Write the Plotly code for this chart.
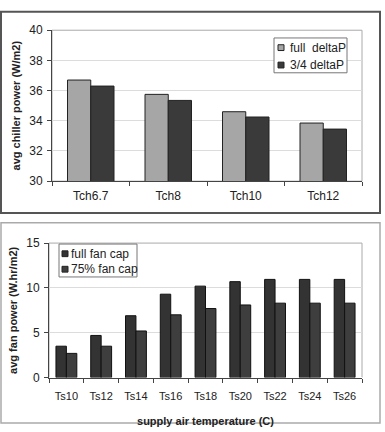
import plotly.graph_objects as go

# ---- data ----
tch_categories = ["Tch6.7", "Tch8", "Tch10", "Tch12"]
full_deltaP = [36.7, 35.75, 34.6, 33.85]
three_quarter_deltaP = [36.3, 35.35, 34.25, 33.45]

ts_categories = ["Ts10", "Ts12", "Ts14", "Ts16", "Ts18", "Ts20", "Ts22", "Ts24", "Ts26"]
full_fan_cap = [3.5, 4.7, 6.9, 9.3, 10.2, 10.7, 10.95, 10.95, 10.95]
fan_cap_75 = [2.7, 3.5, 5.2, 7.0, 7.7, 8.1, 8.3, 8.3, 8.3]

top_ticks = [30, 32, 34, 36, 38, 40]
bottom_ticks = [0, 5, 10, 15]

top_series_names = ["full  deltaP", "3/4 deltaP"]
bottom_series_names = ["full fan cap", "75% fan cap"]

W, H = 385, 432
FONT = "Liberation Sans, Arial, sans-serif"

def px(x):
    return x / W

def py(y):
    return 1 - y / H

top_colors = ["#a6a6a6", "#3a3a3a"]
bottom_colors = ["#333333", "#3e3e3e"]

fig = go.Figure()

fig.add_trace(go.Bar(x=tch_categories, y=full_deltaP, name=top_series_names[0],
                     marker=dict(color=top_colors[0], line=dict(color="#222", width=1)),
                     xaxis="x", yaxis="y", showlegend=False))
fig.add_trace(go.Bar(x=tch_categories, y=three_quarter_deltaP, name=top_series_names[1],
                     marker=dict(color=top_colors[1], line=dict(color="#222", width=1)),
                     xaxis="x", yaxis="y", showlegend=False))
fig.add_trace(go.Bar(x=ts_categories, y=full_fan_cap, name=bottom_series_names[0],
                     marker=dict(color=bottom_colors[0], line=dict(color="#111", width=1)),
                     xaxis="x2", yaxis="y2", showlegend=False))
fig.add_trace(go.Bar(x=ts_categories, y=fan_cap_75, name=bottom_series_names[1],
                     marker=dict(color=bottom_colors[1], line=dict(color="#111", width=1)),
                     xaxis="x2", yaxis="y2", showlegend=False))

titlefont = dict(family=FONT, size=11, color="#222", weight="bold")

def axis_common(size):
    return dict(showline=True, linecolor="#444", linewidth=1, ticks="outside",
                ticklen=4, tickcolor="#444",
                tickfont=dict(family=FONT, size=size, color="#222"))

fig.update_layout(
    width=W, height=H,
    margin=dict(l=0, r=0, t=0, b=0),
    paper_bgcolor="white", plot_bgcolor="white",
    barmode="group", bargap=0.4, bargroupgap=0,
    font=dict(family=FONT, color="#222"),
    showlegend=False,
    xaxis=dict(domain=[px(52), px(362)], anchor="y", tickson="boundaries",
               showgrid=False, ticklabelstandoff=3, **axis_common(12)),
    yaxis=dict(domain=[py(180), py(24)], anchor="x", range=[30, 40],
               tickvals=top_ticks, showgrid=True, gridcolor="#dcdcdc",
               ticklabelstandoff=2,
               title=dict(text="avg chiller power (W/m2)", font=titlefont, standoff=6),
               **axis_common(12)),
    xaxis2=dict(domain=[px(49), px(362)], anchor="y2", tickson="boundaries",
                showgrid=False, ticklabelstandoff=8,
                title=dict(text="supply air temperature (C)", font=titlefont, standoff=16),
                **axis_common(11)),
    yaxis2=dict(domain=[py(383), py(244)], anchor="x2", range=[0, 15],
                tickvals=bottom_ticks, showgrid=True, gridcolor="#dcdcdc",
                ticklabelstandoff=2,
                title=dict(text="avg fan power (W.hr/m2)", font=titlefont, standoff=6),
                **axis_common(12)),
)

shapes = [
    # plot area borders
    dict(type="rect", xref="paper", yref="paper", x0=px(52), x1=px(362), y0=py(180), y1=py(24),
         line=dict(color="#aaaaaa", width=1), layer="below"),
    dict(type="rect", xref="paper", yref="paper", x0=px(49), x1=px(362), y0=py(383), y1=py(244),
         line=dict(color="#aaaaaa", width=1), layer="below"),
    # outer frames
    dict(type="rect", xref="paper", yref="paper", x0=px(1), x1=px(380), y0=py(213), y1=py(5),
         line=dict(color="#555555", width=2)),
    dict(type="rect", xref="paper", yref="paper", x0=px(1), x1=px(380), y0=py(430), y1=py(223),
         line=dict(color="#aaaaaa", width=1.5)),
    # legend boxes
    dict(type="rect", xref="paper", yref="paper", x0=px(274), x1=px(347), y0=py(68), y1=py(32),
         line=dict(color="#777777", width=1), fillcolor="white"),
    dict(type="rect", xref="paper", yref="paper", x0=px(59), x1=px(137), y0=py(279), y1=py(245),
         line=dict(color="#777777", width=1), fillcolor="white"),
]

annotations = []

def legend_entries(names, colors, sq_x, text_x, rows_y):
    for name, color, ry in zip(names, colors, rows_y):
        shapes.append(dict(type="rect", xref="paper", yref="paper",
                           x0=px(sq_x), x1=px(sq_x + 6), y0=py(ry + 3), y1=py(ry - 3),
                           line=dict(color="#222", width=1), fillcolor=color))
        annotations.append(dict(xref="paper", yref="paper", x=px(text_x), y=py(ry),
                                xanchor="left", yanchor="middle", showarrow=False,
                                text=name.replace("  ", "&nbsp; "),
                                font=dict(family=FONT, size=12, color="#222")))

legend_entries(top_series_names, top_colors, 278, 288, [42, 60])
legend_entries(bottom_series_names, bottom_colors, 62, 69, [255, 271])

fig.update_layout(shapes=shapes, annotations=annotations)

fig.write_html("out.html")
